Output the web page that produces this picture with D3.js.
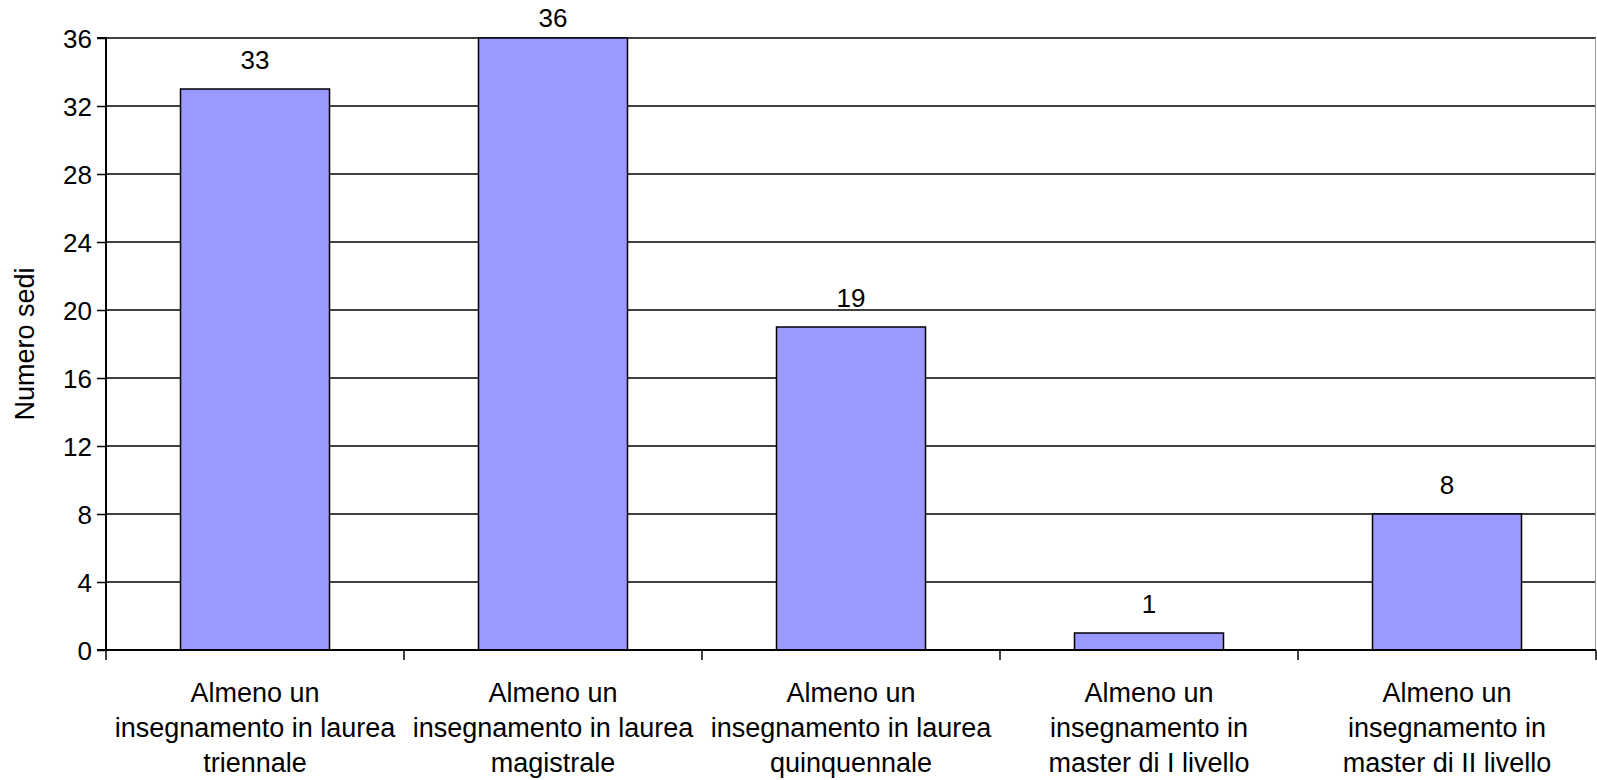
<!DOCTYPE html>
<html>
<head>
<meta charset="utf-8">
<script src="https://cdn.jsdelivr.net/npm/d3@7"></script>
<style>
  html, body { margin: 0; padding: 0; background: #fff; }
  svg { display: block; font-family: "Liberation Sans", Arial, sans-serif; }
</style>
</head>
<body>
<svg id="chart" width="1597" height="780"></svg>
<script>
const categories = [
  ["Almeno un", "insegnamento in laurea", "triennale"],
  ["Almeno un", "insegnamento in laurea", "magistrale"],
  ["Almeno un", "insegnamento in laurea", "quinquennale"],
  ["Almeno un", "insegnamento in", "master di I livello"],
  ["Almeno un", "insegnamento in", "master di II livello"]
];
const values = [33, 36, 19, 1, 8];
const yTicks = [0, 4, 8, 12, 16, 20, 24, 28, 32, 36];
const yTitle = "Numero sedi";

const W = 1597, H = 780;
const margin = { top: 38, right: 1, bottom: 130, left: 106 };
const svg = d3.select("#chart");

const keys = categories.map((c, i) => i);
const x = d3.scaleBand().domain(keys).range([margin.left, W - margin.right]).paddingInner(0.5).paddingOuter(0.25);
const y = d3.scaleLinear().domain([0, 36]).range([H - margin.bottom, margin.top]);

// gridlines
svg.append("g")
  .selectAll("line").data(yTicks.filter(t => t > 0)).join("line")
  .attr("x1", margin.left).attr("x2", W - margin.right)
  .attr("y1", d => y(d)).attr("y2", d => y(d))
  .attr("stroke", "#000").attr("stroke-width", 1.5);

// right plot border
svg.append("line")
  .attr("x1", W - margin.right - 0.5).attr("x2", W - margin.right - 0.5)
  .attr("y1", y(36)).attr("y2", y(0))
  .attr("stroke", "#999").attr("stroke-width", 1);

// bars
svg.append("g")
  .selectAll("rect").data(values).join("rect")
  .attr("x", (d, i) => x(i))
  .attr("width", x.bandwidth())
  .attr("y", d => y(d))
  .attr("height", d => y(0) - y(d))
  .attr("fill", "#9999FF")
  .attr("stroke", "#000").attr("stroke-width", 1.5);

// data labels
svg.append("g")
  .selectAll("text").data(values).join("text")
  .attr("x", (d, i) => x(i) + x.bandwidth() / 2)
  .attr("y", d => Math.max(y(d) - 20, 27))
  .attr("text-anchor", "middle")
  .attr("font-size", 26)
  .attr("fill", "#000")
  .text(d => d);

// y axis
const yAxis = d3.axisLeft(y).tickValues(yTicks).tickSize(9).tickPadding(5).tickFormat(d3.format("d"));
const gy = svg.append("g").attr("transform", `translate(${margin.left},0)`).call(yAxis);
gy.select(".domain").attr("stroke", "#000").attr("stroke-width", 2).attr("d", `M-9,${y(36)}H0V${y(0)}H-9`);
gy.selectAll(".tick line").attr("stroke", "#000").attr("stroke-width", 1.5);
gy.selectAll(".tick text").attr("font-size", 26).attr("fill", "#000").attr("dy", "0.35em")
  .attr("font-family", "Liberation Sans, Arial, sans-serif");

// x axis
const edges = keys.map(i => x(i) - x.step() * x.paddingInner() / 2).concat([W - margin.right]);
const gx = svg.append("g");
gx.append("line")
  .attr("x1", margin.left).attr("x2", W - margin.right)
  .attr("y1", y(0)).attr("y2", y(0))
  .attr("stroke", "#000").attr("stroke-width", 2);
gx.selectAll("line.tk").data(edges).join("line").attr("class", "tk")
  .attr("x1", d => d).attr("x2", d => d)
  .attr("y1", y(0)).attr("y2", y(0) + 10)
  .attr("stroke", "#000").attr("stroke-width", 1.5);

const labels = gx.selectAll("text.cat").data(categories).join("text").attr("class", "cat")
  .attr("text-anchor", "middle")
  .attr("font-size", 27)
  .attr("fill", "#000");
labels.selectAll("tspan").data((d, i) => d.map(s => ({ s, i }))).join("tspan")
  .attr("x", d => x(d.i) + x.bandwidth() / 2)
  .attr("y", (d, j) => 702 + j * 35)
  .text(d => d.s);

// y title
svg.append("text")
  .attr("transform", `translate(34, ${(y(0) + y(36)) / 2}) rotate(-90)`)
  .attr("text-anchor", "middle")
  .attr("font-size", 27)
  .attr("fill", "#000")
  .text(yTitle);
</script>
</body>
</html>
